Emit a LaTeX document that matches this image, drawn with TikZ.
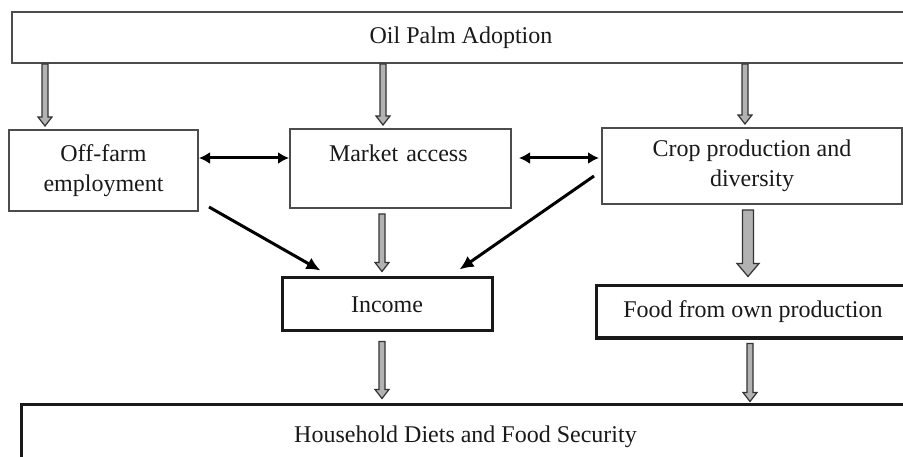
\documentclass[tikz,border=0pt]{standalone}
\usepackage{fontspec}
\setmainfont{Liberation Serif}
\usetikzlibrary{arrows.meta,calc}
\newcommand\hollowarrow[8]{%
  \coordinate (hx) at (#1,0);
  \draw[hollow] let \p1=(hx |- #2.south), \p2=(hx |- #3.north) in
    (\x1-#4pt,\y1-#7pt) -- (\x1-#4pt,\y2+#8pt+#6pt) -- (\x1-#5pt,\y2+#8pt+#6pt)
    -- (\x1,\y2+#8pt) -- (\x1+#5pt,\y2+#8pt+#6pt) -- (\x1+#4pt,\y2+#8pt+#6pt)
    -- (\x1+#4pt,\y1-#7pt) -- cycle;}
\begin{document}
\begin{tikzpicture}[x=1pt,y=-1pt,
  lightbox/.style={draw=black!70,line width=2pt,inner sep=0pt,align=center,
    font=\fontsize{24}{30}\selectfont,text=black!90},
  darkbox/.style={lightbox,draw=black!90,line width=3pt},
  hollow/.style={draw=black!80,fill=black!30,line width=1.2pt,line join=miter},
  link/.style={line width=3pt,-{Latex[length=14pt,width=13pt]}},
  twoway/.style={line width=3pt,{Latex[length=11pt,width=12pt]}-{Latex[length=11pt,width=12pt]}}]
\useasboundingbox (0,0) rectangle (903,457);
% boxes
\node[lightbox,minimum width=898pt,minimum height=51pt] (top) at (461,37.5) {Oil Palm Adoption};
\node[lightbox,minimum width=189pt,minimum height=81pt] (off) at (103.5,170.5) {Off-farm\\employment};
\node[lightbox,minimum width=221pt,minimum height=79pt,text width=143pt,align=left] (market) at (400.5,168.5) {Market access\\\mbox{}};
\node[lightbox,minimum width=300pt,minimum height=76pt] (crop) at (752,166) {Crop production and\\diversity};
\node[darkbox,minimum width=210pt,minimum height=53pt] (income) at (387,304.5) {Income};
\node[darkbox,minimum width=314pt,minimum height=52pt] (food) at (753,312) {Food from own production};
\node[darkbox,minimum width=889pt,minimum height=66pt] (house) at (465.5,437) {Household Diets and Food Security};
% hollow block arrows
\hollowarrow{45}{top}{off}{3}{7}{9}{0}{3}
\hollowarrow{383}{top}{market}{3}{7}{9}{0}{3}
\hollowarrow{745}{top}{crop}{3}{7}{9}{0}{3}
\hollowarrow{382}{market}{income}{3}{7}{9}{5}{5}
\hollowarrow{748}{crop}{food}{5.5}{11}{13}{5}{8}
\hollowarrow{382}{income}{house}{3}{7}{9}{9}{4}
\hollowarrow{750}{food}{house}{3}{7}{9}{4}{1}
% black arrows
\coordinate (row) at (0,158);
\draw[twoway] (off.east |- row) -- (market.west |- row);
\draw[twoway] ($(market.east |- row)+(7,0)$) -- ($(crop.west |- row)+(-2,0)$);
\draw[link] ($(off.south east)+(10,-5)$) -- ($(income.north west)+(40,-6)$);
\draw[link] ($(crop.west)+(-7,10)$) -- ($(income.north east)+(-34,-7)$);
\end{tikzpicture}
\end{document}
